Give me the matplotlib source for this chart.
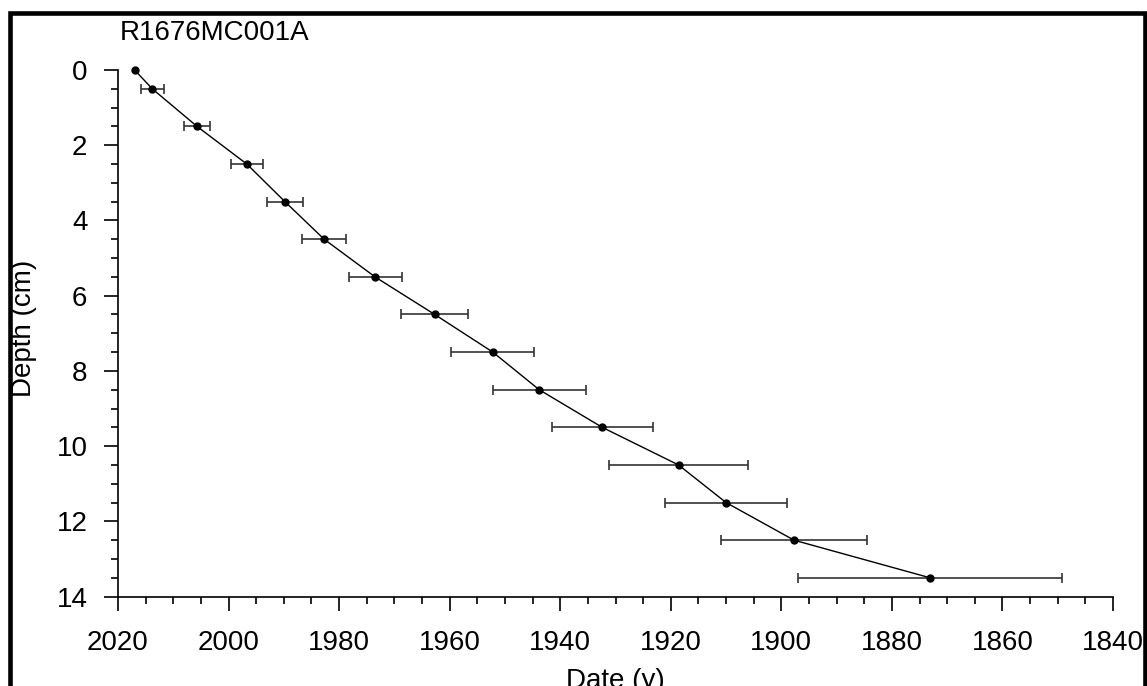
import matplotlib
matplotlib.use("Agg")
import matplotlib.pyplot as plt
from matplotlib.patches import Rectangle
from matplotlib.ticker import MultipleLocator

plt.rcParams['font.family'] = ['Liberation Sans', 'DejaVu Sans']

# core R1676MC001A: depth (cm) vs date (y) with date uncertainty
depth = [0, 0.5, 1.5, 2.5, 3.5, 4.5, 5.5, 6.5, 7.5, 8.5, 9.5, 10.5, 11.5, 12.5, 13.5]
date = [2017.0, 2013.8, 2005.7, 1996.7, 1989.8, 1982.7, 1973.5, 1962.7,
        1952.2, 1943.8, 1932.4, 1918.6, 1910.0, 1897.7, 1873.1]
date_err = [0, 2.1, 2.4, 2.9, 3.3, 4.0, 4.8, 6.1, 7.5, 8.4, 9.1, 12.5, 11.0, 13.2, 23.9]

fig = plt.figure(figsize=(11.47, 6.86), dpi=100)
ax = fig.add_axes([118 / 1147, 1 - 596.6 / 686, 995 / 1147, 526.6 / 686])

ax.errorbar(date[1:], depth[1:], xerr=date_err[1:], fmt='none', ecolor='#333333',
            elinewidth=1.2, capsize=3.5, capthick=1.2, clip_on=False)
ax.plot(date, depth, color='black', lw=1.0, marker='o', ms=5, clip_on=False, zorder=3)

ax.set_xlim(2020, 1840)
ax.set_ylim(14, 0)
ax.xaxis.set_major_locator(MultipleLocator(20))
ax.xaxis.set_minor_locator(MultipleLocator(5))
ax.yaxis.set_major_locator(MultipleLocator(2))
ax.yaxis.set_minor_locator(MultipleLocator(0.5))

for s in ['top', 'right']:
    ax.spines[s].set_visible(False)
for s in ['left', 'bottom']:
    ax.spines[s].set_linewidth(1.2)

ax.tick_params(which='major', direction='out', length=10, width=1.2, labelsize=20)
ax.tick_params(which='minor', direction='out', length=4.8, width=1.2)
ax.tick_params(axis='x', which='major', pad=14)
ax.tick_params(axis='y', which='major', pad=12)

ax.set_xlabel('Date (y)', fontsize=20)
ax.xaxis.set_label_coords(0.5, -0.135)
ax.set_ylabel('Depth (cm)', fontsize=20)
ax.yaxis.set_label_coords(-0.0815, 0.51)

fig.text(120 / 1147, 1 - 40 / 686, 'R1676MC001A', fontsize=20, ha='left', va='baseline')

# outer frame
fig.patches.append(Rectangle((9.5 / 1147, -0.05), (1145 - 9.5) / 1147, 1.05 - 13 / 686,
                             transform=fig.transFigure, fill=False, lw=3.3,
                             edgecolor='black'))

fig.savefig('out.png', dpi=100)
